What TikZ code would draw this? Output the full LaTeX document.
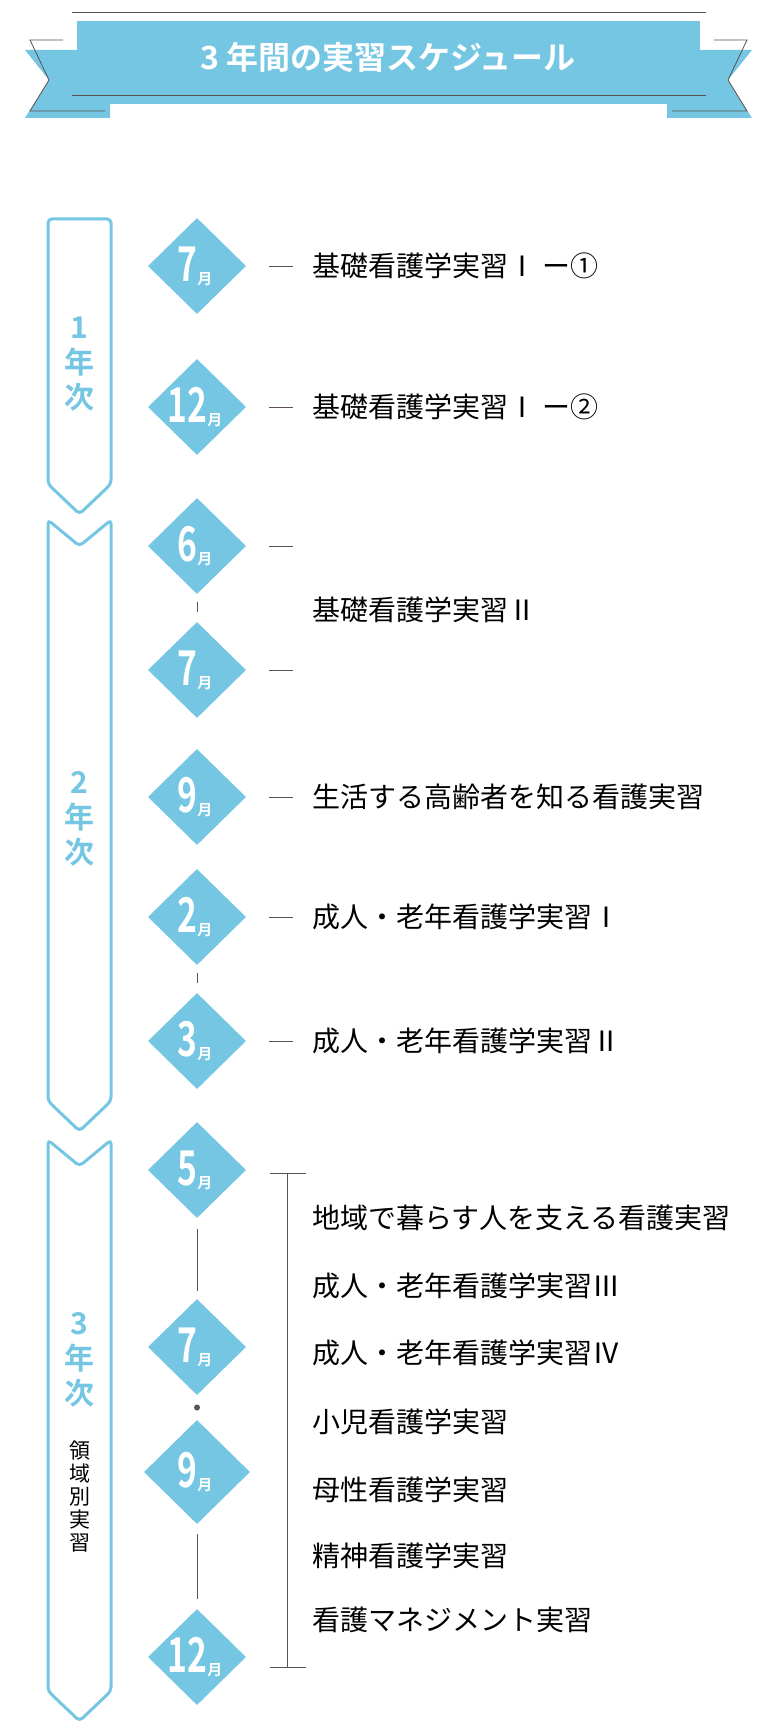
\documentclass[tikz,border=0pt]{standalone}
\usepackage{fontspec}
\setmainfont{Noto Sans CJK JP}
\newfontfamily\jpb{Noto Sans CJK JP Bold}
\usetikzlibrary{shapes.geometric,calc}
\definecolor{sky}{HTML}{75C6E2}
\definecolor{brn}{HTML}{5E524E}
\tikzset{x=1pt,y=-1pt,
 dia/.style={diamond,aspect=1,fill=sky,minimum width=98pt,minimum height=96pt,inner sep=0pt},
 item/.style={anchor=west,font=\fontsize{28}{30}\selectfont,inner sep=0pt},
 yr/.style={text=sky,font=\jpb\fontsize{30}{35}\selectfont,align=center},
 arr/.style={draw=sky,line width=3pt,fill=white,rounded corners=4pt},
 ln/.style={draw=brn,line width=1pt}}
\newcommand\mon[3]{\node[dia] (#1) at (197,#2) {};\node[text=white,font=\jpb,inner sep=0pt] at ([xshift=-2pt]#1) {\scalebox{0.7}[1]{\fontsize{48}{48}\selectfont #3}\raisebox{-3pt}{\fontsize{15}{15}\selectfont 月}};}
\begin{document}
\begin{tikzpicture}
\useasboundingbox (0,0) rectangle (764,1736);
% ribbon
\fill[sky] (25,50)--(110,50)--(110,118)--(25,118)--(49,80)--cycle;
\fill[sky] (752,50)--(667,50)--(667,118)--(752,118)--(728,80)--cycle;
\draw[ln,line width=0.8pt] (63,40)--(30,40)--(49,80)--(30,111)--(105,111);
\draw[ln,line width=0.8pt] (714,40)--(747,40)--(728,80)--(747,111)--(672,111);
\fill[sky] (77,21) rectangle (700,104);
\draw[ln,line width=0.8pt] (72,12.5)--(706,12.5);
\draw[ln,line width=0.8pt] (72,95)--(706,95);
\node[text=white,font=\jpb\fontsize{32}{34}\selectfont] (title) at (388,57) {3 年間の実習スケジュール};
% year arrows
\path[arr] (48,219)--(111,219)--(111,484)--(79.5,514)--(48,484)--cycle;
\path[arr] (48,520)--(79.5,546)--(111,520)--(111,1101)--(79.5,1131)--(48,1101)--cycle;
\path[arr] (48,1140)--(79.5,1166)--(111,1140)--(111,1691)--(79.5,1721)--(48,1691)--cycle;
\node[yr] (y1) at (79.5,364) {1\\年\\次};
\node[yr] (y2) at (79.5,819) {2\\年\\次};
\node[yr] (y3) at (79.5,1360) {3\\年\\次};
\node[font=\fontsize{21}{23}\selectfont,align=center,anchor=north] (y3b) at (79.5,1437) {領\\域\\別\\実\\習};
% months
\mon{m1}{266}{7}
\mon{m2}{407}{12}
\mon{m3}{546}{6}
\mon{m4}{670}{7}
\mon{m5}{797}{9}
\mon{m6}{917}{2}
\mon{m7}{1041}{3}
\mon{m8}{1170}{5}
\mon{m9}{1347}{7}
\node[dia,minimum width=106pt,minimum height=104pt] (m10) at (197,1472) {};
\node[text=white,font=\jpb,inner sep=0pt] at ([xshift=-2pt]m10) {\scalebox{0.7}[1]{\fontsize{48}{48}\selectfont 9}\raisebox{-3pt}{\fontsize{15}{15}\selectfont 月}};
\mon{m11}{1657}{12}
% dashes
\foreach \m in {m1,m2,m3,m4,m5,m6,m7}{\draw[ln] ([xshift=23pt]\m.east)--++(24pt,0);}
% small connectors
\draw[ln] ([yshift=-8pt]m3.south)--([yshift=10pt]m4.north);
\draw[ln] ([yshift=-8pt]m6.south)--([yshift=10pt]m7.north);
\draw[ln] ([yshift=-11pt]m8.south)--([yshift=8pt]m9.north);
\fill[brn] ($(m9.south)!0.5!(m10.north)$) circle (3pt);
\draw[ln] ([yshift=-10pt]m10.south)--([yshift=10pt]m11.north);
% texts
\node[item] (t1) at (312,266) {基礎看護学実習Ⅰ ー①};
\node[item] (t2) at (312,407) {基礎看護学実習Ⅰ ー②};
\node[item] (t3) at (312,610) {基礎看護学実習Ⅱ};
\node[item] (t4) at (312,797) {生活する高齢者を知る看護実習};
\node[item] (t5) at (312,917) {成人・老年看護学実習Ⅰ};
\node[item] (t6) at (312,1041) {成人・老年看護学実習Ⅱ};
\coordinate (bt) at (287,1173);
\coordinate (bb) at (287,1667);
\draw[ln] (bt)--(bb);
\draw[ln] ([xshift=-17pt]bt)--([xshift=19pt]bt);
\draw[ln] ([xshift=-17pt]bb)--([xshift=19pt]bb);
\node[item] at (312,1218) {地域で暮らす人を支える看護実習};
\node[item] at (312,1286) {成人・老年看護学実習Ⅲ};
\node[item] at (312,1353) {成人・老年看護学実習Ⅳ};
\node[item] at (312,1422) {小児看護学実習};
\node[item] at (312,1490) {母性看護学実習};
\node[item] at (312,1556) {精神看護学実習};
\node[item] at (312,1620) {看護マネジメント実習};
\end{tikzpicture}
\end{document}
